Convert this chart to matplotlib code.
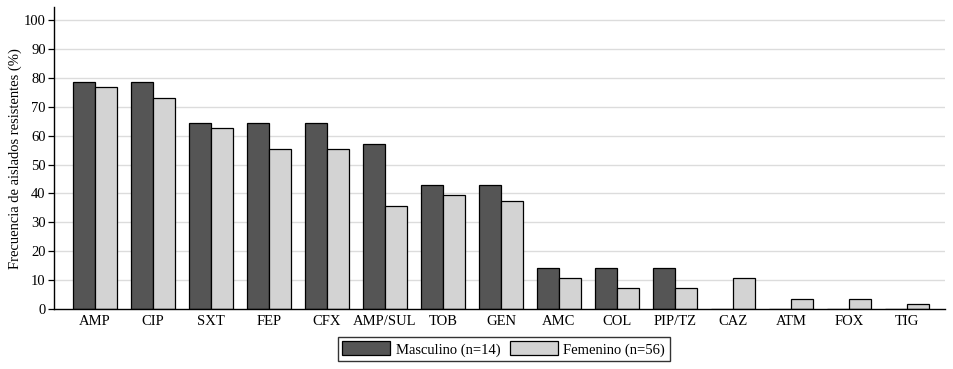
import numpy as np
import matplotlib.pyplot as plt

# categories and resistance frequencies (%)
antibioticos = ['AMP', 'CIP', 'SXT', 'FEP', 'CFX', 'AMP/SUL', 'TOB', 'GEN',
                'AMC', 'COL', 'PIP/TZ', 'CAZ', 'ATM', 'FOX', 'TIG']
masculino = [78.6, 78.6, 64.3, 64.3, 64.3, 57.1, 42.9, 42.9,
             14.3, 14.3, 14.3, 0, 0, 0, 0]
femenino = [76.8, 73.2, 62.5, 55.4, 55.4, 35.7, 39.3, 37.5,
            10.7, 7.1, 7.1, 10.7, 3.6, 3.6, 1.8]
y_ticks = list(range(0, 101, 10))

plt.rcParams['font.family'] = ['Liberation Serif', 'DejaVu Serif']
plt.rcParams['font.size'] = 10.5

fig = plt.figure(figsize=(9.54, 3.69), dpi=100)
ax = fig.add_axes([0.0566, 0.1626, 0.934, 0.818])

x = np.arange(len(antibioticos))
w = 0.38
ax.bar(x - w / 2, masculino, w, color='#555555', edgecolor='black',
       linewidth=0.9, label='Masculino (n=14)', zorder=3)
ax.bar(x + w / 2, femenino, w, color='#d3d3d3', edgecolor='black',
       linewidth=0.9, label='Femenino (n=56)', zorder=3)

ax.set_xlim(-0.71, 14.66)
ax.set_ylim(0, 104.5)
ax.set_yticks(y_ticks)
ax.set_xticks(x)
ax.set_xticklabels(antibioticos)
ax.tick_params(axis='x', length=0, pad=4)
ax.tick_params(axis='y', length=4, width=0.9, pad=2)
for t in y_ticks[1:]:
    ax.axhline(t, color='#dcdcdc', linewidth=1, zorder=0)

for s in ['top', 'right']:
    ax.spines[s].set_visible(False)
ax.spines['left'].set_linewidth(1)
ax.spines['bottom'].set_linewidth(1)
ax.spines['bottom'].set_zorder(4)

ax.set_ylabel('Frecuencia de aislados resistentes (%)', labelpad=1)

leg = fig.legend(loc='lower center', bbox_to_anchor=(0.528, 0.022), ncol=2,
                 frameon=True, fancybox=False, edgecolor='black',
                 handlelength=3.3, handleheight=1.1, borderpad=0.3,
                 borderaxespad=0, columnspacing=0.6, handletextpad=0.4)
leg.get_frame().set_linewidth(1)

fig.savefig('out.png', dpi=100)
